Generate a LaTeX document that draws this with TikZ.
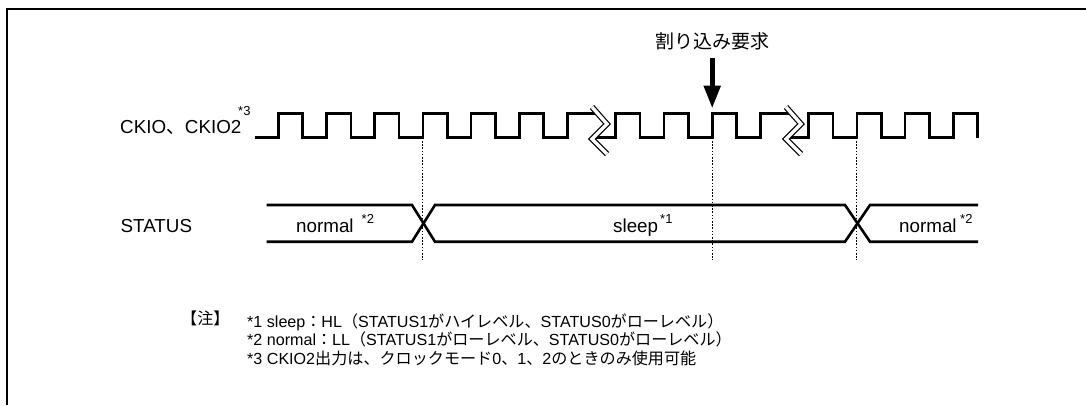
\documentclass[tikz,border=0pt]{standalone}
\usepackage{fontspec}
\setmainfont{Liberation Sans}
\newfontfamily\jpfont{Noto Sans CJK JP}
\newcommand\J[1]{{\jpfont #1}}
\usetikzlibrary{arrows.meta}
\begin{document}
\begin{tikzpicture}[x=1pt,y=-1pt,
  sig/.style={line width=2.6pt, line join=miter},
  guide/.style={line width=1.1pt, dash pattern=on 1.6pt off 1.6pt},
  brk/.style={line width=5.8pt, line join=miter},
  brkin/.style={line width=3.4pt, white, line join=miter},
  lab/.style={anchor=base west, inner sep=0pt, font=\fontsize{18.8}{20}\selectfont},
  suplab/.style={anchor=base west, inner sep=0pt, font=\fontsize{13}{14}\selectfont},
  notetxt/.style={anchor=base west, inner sep=0pt, font=\fontsize{16.1}{18}\selectfont},
]
\useasboundingbox (0,0) rectangle (1086,405);
% frame
\draw[line width=2.6pt] (7,405) -- (7,9) -- (1086,9);

% guides
\coordinate (g1t) at (422.9,137.7); \coordinate (g1b) at (422.9,260);
\coordinate (g2t) at (712.2,137.7); \coordinate (g2b) at (712.2,260);
\coordinate (g3t) at (856.8,137.7); \coordinate (g3b) at (856.8,260);
\draw[guide] (g1t) -- (g1b);
\draw[guide] (g2t) -- (g2b);
\draw[guide] (g3t) -- (g3b);

% clock part 1
\draw[sig] (255,137.7)
  \foreach \k in {0,...,5}{
    -- ({278.3+48.21*\k},137.7) -- ({278.3+48.21*\k},113.3)
    -- ({302.7+48.21*\k},113.3) -- ({302.7+48.21*\k},137.7)}
  -- (567.6,137.7) -- (567.6,113.3) -- (597,113.3);
% clock part 2
\draw[sig] (594,137.7)
  \foreach \k in {7,...,9}{
    -- ({278.3+48.21*\k},137.7) -- ({278.3+48.21*\k},113.3)
    -- ({302.7+48.21*\k},113.3) -- ({302.7+48.21*\k},137.7)}
  -- (760.4,137.7) -- (760.4,113.3) -- (791,113.3);
% clock part 3
\draw[sig] (788,137.7)
  \foreach \k in {11,...,14}{
    -- ({278.3+48.21*\k},137.7) -- ({278.3+48.21*\k},113.3)
    -- ({302.7+48.21*\k},113.3) -- ({302.7+48.21*\k},137.7)};

% break marks
\draw[brk] (592,107) -- (607,124) -- (592,139) -- (607,154);
\draw[brkin] (592,107) -- (607,124) -- (592,139) -- (607,154);
\draw[brk] (786,107) -- (801,124) -- (786,139) -- (801,154);
\draw[brkin] (786,107) -- (801,124) -- (786,139) -- (801,154);

% STATUS bus
\draw[sig] (266.7,205) -- (412,205) -- (435,241.7) -- (845,241.7) -- (870,205) -- (978,205);
\draw[sig] (266.7,241.7) -- (412,241.7) -- (435,205) -- (845,205) -- (870,241.7) -- (978,241.7);

% labels
\node[lab] (ckio) at (120,133) {CKIO\J{、}CKIO2};
\node[suplab] (ckios) at (238,115) {*3};
\node[lab] (status) at (120.5,232) {STATUS};
\node[lab] (norm1) at (296,232) {normal};
\node[suplab] (norm1s) at (361.5,223) {*2};
\node[lab] (sleep) at (613,232) {sleep};
\node[suplab] (sleeps) at (660,223) {*1};
\node[lab] (norm2) at (899,232) {normal};
\node[suplab] (norm2s) at (960,223) {*2};

% interrupt request
\node[anchor=base, inner sep=0pt, font=\fontsize{19}{20}\selectfont\jpfont] (irq) at (712.5,48) {割り込み要求};
\coordinate (irqa) at (712.2,58.3);
\coordinate (irqb) at (712.2,108.5);
\draw[line width=5.2pt, -{Triangle[width=16pt,length=23pt]}] (irqa) -- (irqb);

% notes
\node[notetxt, font=\fontsize{16.1}{18}\selectfont\jpfont] (chu) at (181,324) {【注】};
\node[notetxt] (note1) at (247,327) {*1 sleep\J{：}HL\J{（}STATUS1\J{がハイレベル、}STATUS0\J{がローレベル）}};
\node[notetxt] (note2) at (247,345.7) {*2 normal\J{：}LL\J{（}STATUS1\J{がローレベル、}STATUS0\J{がローレベル）}};
\node[notetxt] (note3) at (247,364.4) {*3 CKIO2\J{出力は、クロックモード}0\J{、}1\J{、}2\J{のときのみ使用可能}};
\end{tikzpicture}
\end{document}
